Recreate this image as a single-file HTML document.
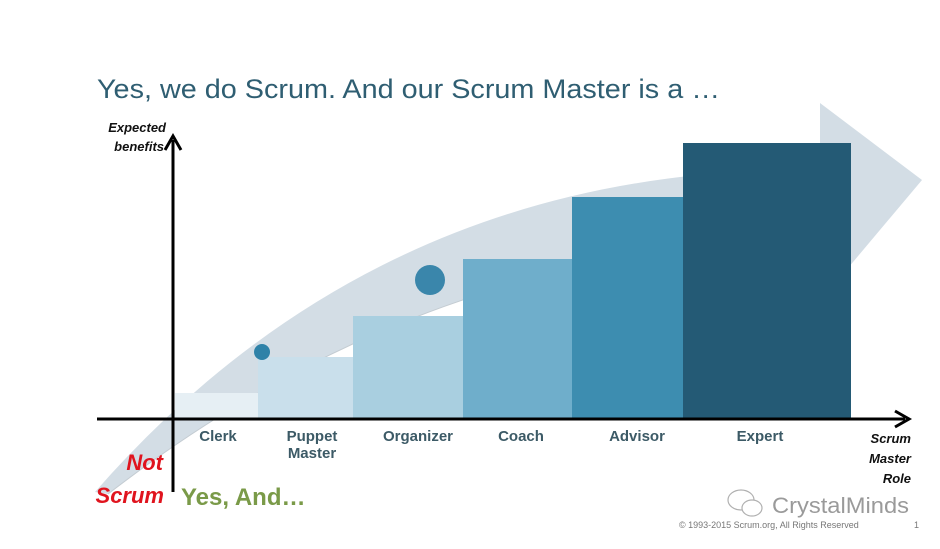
<!DOCTYPE html>
<html><head><meta charset="utf-8"><style>
html,body{margin:0;padding:0;background:#fff;}
svg{display:block;}
text{font-family:"Liberation Sans",sans-serif;}
</style></head><body>
<svg width="940" height="549" viewBox="0 0 940 549" xmlns="http://www.w3.org/2000/svg">
<rect width="940" height="549" fill="#fff"/>
<text x="97" y="98" font-size="27" fill="#2f5e72" textLength="623" lengthAdjust="spacingAndGlyphs">Yes, we do Scrum. And our Scrum Master is a …</text>
<path d="M95,492 Q382,164 820,170 L820,103 L922,180 L848,268 L846,245 Q450,230 108,494 Z" fill="#d3dde5"/>
<path d="M846,245 Q450,230 108,494" fill="none" stroke="#c4ccd2" stroke-width="1"/>
<rect x="175" y="393" width="83" height="25" fill="#e6eff4"/>
<rect x="258" y="357" width="95" height="61" fill="#c9dfeb"/>
<rect x="353" y="316" width="110" height="102" fill="#a9cfe0"/>
<rect x="463" y="259" width="109" height="159" fill="#6faecb"/>
<rect x="572" y="197" width="111" height="221" fill="#3d8db0"/>
<rect x="683" y="143" width="168" height="275" fill="#245a75"/>
<ellipse cx="262" cy="352" rx="8" ry="8" fill="#2f82a8"/>
<ellipse cx="430" cy="280" rx="15" ry="15" fill="#3a86ab"/>
<line x1="173" y1="140" x2="173" y2="492" stroke="#000" stroke-width="3"/>
<path d="M165,150 L173,136 L181,150" fill="none" stroke="#000" stroke-width="3"/>
<line x1="97" y1="419" x2="905" y2="419" stroke="#000" stroke-width="3"/>
<path d="M895,411 L909,419 L895,427" fill="none" stroke="#000" stroke-width="3"/>
<g font-style="italic" font-weight="bold" font-size="13" fill="#111" text-anchor="end">
<text x="166" y="132">Expected</text>
<text x="164" y="151">benefits</text>
<text x="911" y="443">Scrum</text>
<text x="911" y="463">Master</text>
<text x="911" y="483">Role</text>
</g>
<g font-weight="bold" font-size="15" fill="#3c5a66" text-anchor="middle">
<text x="218" y="441">Clerk</text>
<text x="312" y="441">Puppet</text>
<text x="312" y="458">Master</text>
<text x="418" y="441">Organizer</text>
<text x="521" y="441">Coach</text>
<text x="637" y="441">Advisor</text>
<text x="760" y="441">Expert</text>
</g>
<g font-style="italic" font-weight="bold" font-size="22" fill="#e0141e" text-anchor="end">
<text x="163" y="470">Not</text>
<text x="164" y="503">Scrum</text>
</g>
<text x="181" y="505" font-weight="bold" font-size="24" fill="#7a9a48">Yes, And…</text>
<text x="772" y="513" font-size="22" fill="#9a9a9a" textLength="137" lengthAdjust="spacingAndGlyphs">CrystalMinds</text>
<g fill="none" stroke="#b0b0b0" stroke-width="1.2">
<ellipse cx="741" cy="500" rx="13" ry="10"/>
<ellipse cx="752" cy="508" rx="10" ry="8" fill="#fff"/>
</g>
<text x="679" y="528" font-size="9" fill="#777">© 1993-2015   Scrum.org, All Rights Reserved</text>
<text x="914" y="528" font-size="9" fill="#777">1</text>
</svg>
</body></html>
